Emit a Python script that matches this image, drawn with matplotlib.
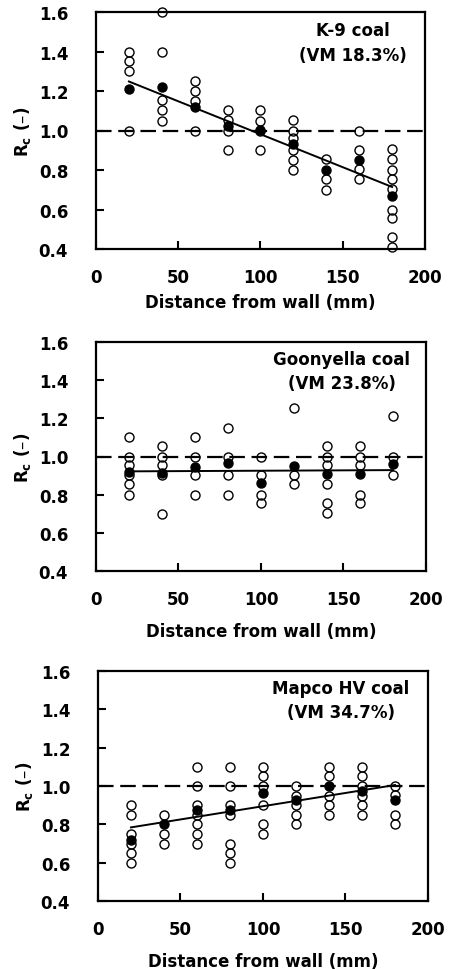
import numpy as np
import matplotlib
matplotlib.use("Agg")
import matplotlib.pyplot as plt

plt.rcParams['font.family'] = ['DejaVu Sans']
plt.rcParams['font.weight'] = 'bold'

distance = [20, 40, 60, 80, 100, 120, 140, 160, 180]

# K-9 coal (VM 18.3%)
k9_open = [
    [1.40, 1.35, 1.30, 1.00],
    [1.60, 1.40, 1.155, 1.105, 1.05],
    [1.25, 1.20, 1.15, 1.00],
    [1.105, 1.055, 1.00, 0.90],
    [1.105, 1.05, 1.00, 0.90],
    [1.055, 1.00, 0.96, 0.90, 0.85, 0.80],
    [0.855, 0.755, 0.70],
    [1.00, 0.90, 0.805, 0.755],
    [0.905, 0.855, 0.80, 0.755, 0.705, 0.60, 0.555, 0.46, 0.41],
]
k9_mean = [1.21, 1.22, 1.12, 1.025, 1.005, 0.93, 0.80, 0.85, 0.67]

# Goonyella coal (VM 23.8%)
goon_open = [
    [1.10, 1.00, 0.955, 0.905, 0.855, 0.80],
    [1.055, 1.00, 0.955, 0.905, 0.70],
    [1.10, 1.00, 0.905, 0.80],
    [1.15, 1.00, 0.905, 0.80],
    [1.00, 0.905, 0.80, 0.755],
    [1.255, 0.905, 0.855],
    [1.055, 1.00, 0.955, 0.855, 0.755, 0.705],
    [1.055, 1.00, 0.955, 0.80, 0.755],
    [1.21, 1.00, 0.905],
]
goon_mean = [0.92, 0.912, 0.947, 0.965, 0.862, 0.95, 0.906, 0.906, 0.961]

# Mapco HV coal (VM 34.7%)
mapco_open = [
    [0.90, 0.85, 0.75, 0.70, 0.65, 0.60],
    [0.85, 0.75, 0.70],
    [1.10, 1.00, 0.90, 0.85, 0.80, 0.75, 0.70],
    [1.10, 1.00, 0.90, 0.85, 0.70, 0.65, 0.60],
    [1.10, 1.05, 1.00, 0.90, 0.80, 0.75],
    [1.00, 0.95, 0.90, 0.85, 0.80],
    [1.10, 1.05, 0.95, 0.90, 0.85],
    [1.10, 1.05, 1.00, 0.95, 0.90, 0.85],
    [1.00, 0.955, 0.85, 0.80],
]
mapco_mean = [0.717, 0.80, 0.874, 0.874, 0.962, 0.925, 1.00, 0.974, 0.925]

coal_names = ["K-9 coal", "Goonyella coal", "Mapco HV coal"]
vm_labels = ["(VM 18.3%)", "(VM 23.8%)", "(VM 34.7%)"]

panels = [(k9_open, k9_mean), (goon_open, goon_mean), (mapco_open, mapco_mean)]

fig = plt.figure(figsize=(4.52, 9.70), dpi=100)
boxes = [
    [96/452, (970-250)/970, 329/452, 237/970],
    [96/452, (970-572)/970, 330/452, 229/970],
    [98/452, (970-902)/970, 330/452, 230/970],
]
text_x = [0.78, 0.745, 0.735]
xpads = [5, 10, 10]

for i, ((opn, mean), box) in enumerate(zip(panels, boxes)):
    ax = fig.add_axes(box)
    xo = []
    yo = []
    for d, vals in zip(distance, opn):
        xo += [d] * len(vals)
        yo += vals
    ax.axhline(1.0, color='black', lw=1.6, dashes=(7, 3), zorder=1)
    coef = np.polyfit(distance, mean, 1)
    xl = np.array([distance[0], distance[-1]])
    ax.plot(xl, np.polyval(coef, xl), color='black', lw=1.4, zorder=2)
    ax.plot(xo, yo, 'o', ms=6.5, mfc='none', mec='black', mew=1.0,
            clip_on=False, zorder=3)
    ax.plot(distance, mean, 'o', ms=6.5, mfc='black', mec='black',
            clip_on=False, zorder=4)
    ax.set_xlim(0, 200)
    ax.set_ylim(0.4, 1.6)
    ax.set_xticks([0, 50, 100, 150, 200])
    ax.set_yticks([0.4, 0.6, 0.8, 1.0, 1.2, 1.4, 1.6])
    ax.set_yticklabels(['0.4', '0.6', '0.8', '1.0', '1.2', '1.4', '1.6'])
    ax.tick_params(direction='in', length=6, width=1.5, labelsize=12,
                   top=False, right=False)
    ax.tick_params(axis='x', pad=14)
    ax.tick_params(axis='y', pad=20)
    for s in ax.spines.values():
        s.set_linewidth(1.6)
    ax.set_xlabel('Distance from wall (mm)', fontsize=12, fontweight='bold',
                  labelpad=xpads[i])
    ax.set_ylabel(r'R$_\mathbf{c}$ (–)', fontsize=12, fontweight='bold',
                  labelpad=4)
    ax.text(text_x[i], 0.925, coal_names[i], transform=ax.transAxes,
            ha='center', va='center', fontsize=12, fontweight='bold')
    ax.text(text_x[i], 0.82, vm_labels[i], transform=ax.transAxes,
            ha='center', va='center', fontsize=12, fontweight='bold')

fig.savefig('out.png', dpi=100)
